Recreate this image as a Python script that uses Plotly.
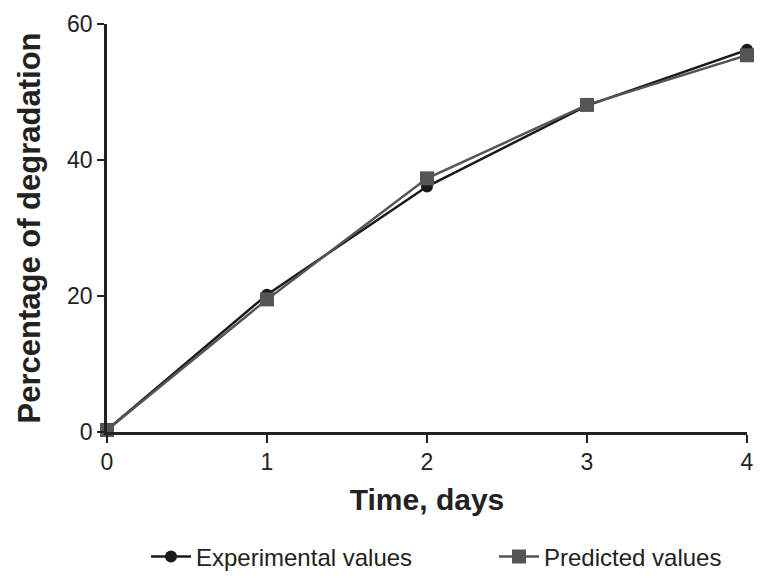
import plotly.graph_objects as go

days = [0, 1, 2, 3, 4]
experimental = [0.3, 20.2, 36.1, 48.0, 56.2]
predicted = [0.3, 19.5, 37.3, 48.1, 55.4]
x_ticks = [0, 1, 2, 3, 4]
y_ticks = [0, 20, 40, 60]

fig = go.Figure()
fig.add_trace(go.Scatter(
    x=days, y=experimental, name="Experimental values", mode="lines+markers",
    line=dict(color="#1a1a1a", width=2.5),
    marker=dict(symbol="circle", size=12, color="#1a1a1a"),
    cliponaxis=False, legend="legend",
))
fig.add_trace(go.Scatter(
    x=days, y=predicted, name="Predicted values", mode="lines+markers",
    line=dict(color="#555555", width=2.5),
    marker=dict(symbol="square", size=14, color="#555555"),
    cliponaxis=False, legend="legend2",
))

font_family = "Liberation Sans, Arial, sans-serif"
leg_common = dict(font=dict(size=24, color="#222222"), yanchor="middle",
                  xanchor="left", bgcolor="rgba(0,0,0,0)", borderwidth=0,
                  itemwidth=40)
fig.update_layout(
    width=769, height=585,
    margin=dict(l=99, r=30, t=16, b=161, autoexpand=False),
    plot_bgcolor="white", paper_bgcolor="white",
    font=dict(family=font_family, color="#222222"),
    showlegend=True,
    legend=dict(x=(146 - 107) / 640, y=(432 - 557) / 408, **leg_common),
    legend2=dict(x=(494 - 107) / 640, y=(432 - 557) / 408, **leg_common),
    xaxis=dict(
        range=[0, 4], tickvals=x_ticks, showgrid=False, zeroline=False,
        showline=True, linecolor="#222222", linewidth=2.5,
        ticks="outside", ticklen=8, tickwidth=2, tickcolor="#222222",
        tickfont=dict(size=23, color="#222222"),
        title=dict(text="<b>Time, days</b>", font=dict(size=30, color="#222222"), standoff=15),
    ),
    yaxis=dict(
        range=[0, 60], tickvals=y_ticks, showgrid=False, zeroline=False,
        showline=True, linecolor="#222222", linewidth=2.5,
        ticks="outside", ticklen=7, tickwidth=2, tickcolor="#222222",
        tickfont=dict(size=23, color="#222222"),
        title=dict(text="<b>Percentage of degradation</b>", font=dict(size=31, color="#222222"), standoff=18),
    ),
)

fig.write_html("out.html")
